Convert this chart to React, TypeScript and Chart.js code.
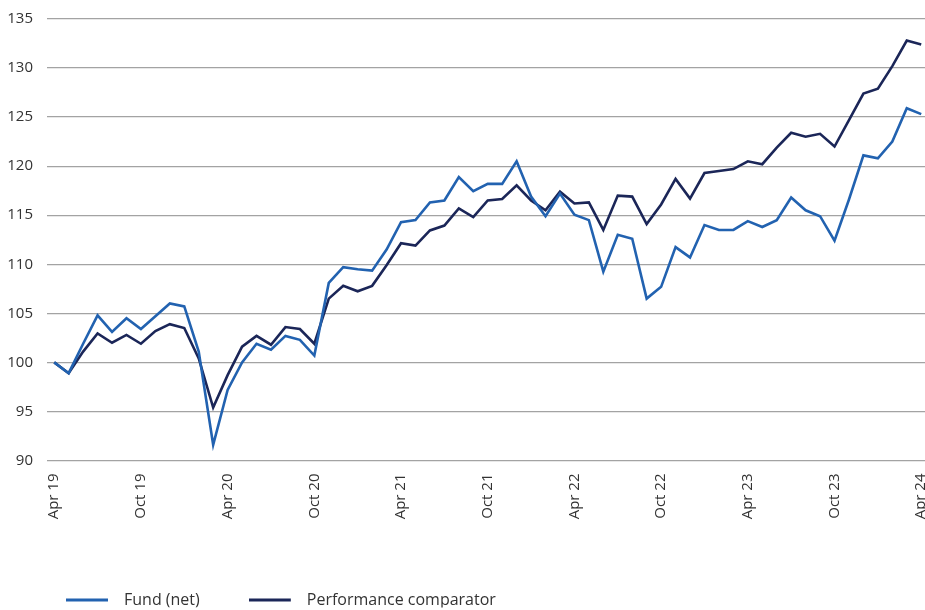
import { useEffect, useRef } from "react";
import { Chart, registerables } from "chart.js";

Chart.register(...registerables);

const months: string[] = [
  "Apr 19", "May 19", "Jun 19", "Jul 19", "Aug 19", "Sep 19", "Oct 19", "Nov 19", "Dec 19",
  "Jan 20", "Feb 20", "Mar 20", "Apr 20", "May 20", "Jun 20", "Jul 20", "Aug 20", "Sep 20", "Oct 20", "Nov 20", "Dec 20",
  "Jan 21", "Feb 21", "Mar 21", "Apr 21", "May 21", "Jun 21", "Jul 21", "Aug 21", "Sep 21", "Oct 21", "Nov 21", "Dec 21",
  "Jan 22", "Feb 22", "Mar 22", "Apr 22", "May 22", "Jun 22", "Jul 22", "Aug 22", "Sep 22", "Oct 22", "Nov 22", "Dec 22",
  "Jan 23", "Feb 23", "Mar 23", "Apr 23", "May 23", "Jun 23", "Jul 23", "Aug 23", "Sep 23", "Oct 23", "Nov 23", "Dec 23",
  "Jan 24", "Feb 24", "Mar 24", "Apr 24",
];

const fundNet: number[] = [
  100, 98.9, 101.9, 104.8, 103.1, 104.5, 103.4, 104.7, 106.0,
  105.7, 101.1, 91.6, 97.2, 100.0, 101.9, 101.3, 102.7, 102.3, 100.7, 108.1, 109.7,
  109.5, 109.35, 111.5, 114.3, 114.5, 116.3, 116.5, 118.9, 117.45, 118.2, 118.2, 120.5,
  116.9, 114.9, 117.2, 115.05, 114.5, 109.25, 113.0, 112.6, 106.5, 107.7, 111.75, 110.7,
  114.0, 113.5, 113.5, 114.4, 113.8, 114.5, 116.8, 115.5, 114.9, 112.4, 116.6, 121.1,
  120.8, 122.5, 125.9, 125.3,
];

const comparator: number[] = [
  100, 98.9, 101.1, 102.95, 102.0, 102.8, 101.9, 103.2, 103.9,
  103.5, 100.4, 95.4, 98.7, 101.6, 102.7, 101.8, 103.6, 103.4, 101.9, 106.5, 107.8,
  107.25, 107.8, 109.9, 112.15, 111.9, 113.45, 113.95, 115.7, 114.8, 116.5, 116.65, 118.05,
  116.5, 115.5, 117.4, 116.2, 116.3, 113.5, 117.0, 116.9, 114.1, 116.1, 118.7, 116.7,
  119.3, 119.5, 119.7, 120.5, 120.2, 121.9, 123.4, 123.0, 123.3, 122.0, 124.7, 127.4,
  127.9, 130.2, 132.8, 132.4,
];

const yTicks: number[] = [90, 95, 100, 105, 110, 115, 120, 125, 130, 135];

const FUND_COLOR = "#2262b0";
const COMP_COLOR = "#1b2658";
const FONT = "'Open Sans', sans-serif";

function legendLine(color: string): HTMLCanvasElement {
  const c = document.createElement("canvas");
  c.width = 50;
  c.height = 4;
  const ctx = c.getContext("2d");
  if (ctx) {
    ctx.fillStyle = color;
    ctx.fillRect(0, 0.5, 42, 3);
  }
  return c;
}

const LEGEND_PAD = 49;

const legendShift = {
  id: "legendShift",
  beforeDraw(chart: any) {
    const lg = chart.legend;
    if (lg) {
      lg.left = 66 - LEGEND_PAD;
      lg.top = 600 - LEGEND_PAD - 8;
    }
  },
};

export default function App() {
  const canvasRef = useRef<HTMLCanvasElement | null>(null);

  useEffect(() => {
    if (!canvasRef.current) return;
    const images = [legendLine(FUND_COLOR), legendLine(COMP_COLOR)];
    const chart = new Chart(canvasRef.current, {
      type: "line",
      data: {
        labels: months,
        datasets: [
          {
            label: "Fund (net)",
            data: fundNet,
            borderColor: FUND_COLOR,
            backgroundColor: FUND_COLOR,
            borderWidth: 2.6,
            pointRadius: 0,
            tension: 0,
          },
          {
            label: "Performance comparator",
            data: comparator,
            borderColor: COMP_COLOR,
            backgroundColor: COMP_COLOR,
            borderWidth: 2.6,
            pointRadius: 0,
            tension: 0,
          },
        ],
      },
      plugins: [legendShift],
      options: {
        animation: false,
        responsive: true,
        maintainAspectRatio: false,
        layout: { padding: { left: 0, right: 6.55, top: 19, bottom: 2.5 } },
        plugins: {
          tooltip: { enabled: false },
          legend: {
            position: "bottom",
            align: "start",
            labels: {
              usePointStyle: true,
              pointStyleWidth: 50,
              padding: LEGEND_PAD,
              color: "#333333",
              font: { family: FONT, size: 16 },
              generateLabels: (ch: any) => {
                const items = Chart.defaults.plugins.legend.labels.generateLabels(ch);
                return items.map((it: any, i: number) => ({ ...it, pointStyle: images[i] }));
              },
            },
          },
        },
        scales: {
          x: {
            type: "category",
            offset: true,
            grid: { display: false, drawTicks: false },
            border: { display: false },
            afterFit: (scale: any) => {
              scale.height = 72;
              scale.paddingLeft = 0;
              scale.paddingRight = 0;
            },
            ticks: {
              autoSkip: false,
              minRotation: 90,
              maxRotation: 90,
              padding: 13,
              color: "#333333",
              font: { family: FONT, size: 15 },
              callback: (_v: any, index: number) => (index % 6 === 0 ? months[index] : ""),
            },
          },
          y: {
            min: yTicks[0],
            max: yTicks[yTicks.length - 1],
            afterFit: (scale: any) => {
              scale.width = 47;
              scale.paddingTop = 0;
              scale.paddingBottom = 0;
            },
            afterBuildTicks: (scale: any) => {
              scale.ticks = yTicks.map((v) => ({ value: v }));
            },
            grid: { color: "#a3a3a3", lineWidth: 1.3, drawTicks: false },
            border: { display: false },
            ticks: {
              padding: 14,
              color: "#333333",
              font: { family: FONT, size: 15 },
            },
          },
        },
      },
    });
    return () => chart.destroy();
  }, []);

  return (
    <div style={{ position: "fixed", left: 0, top: 0, width: 925, height: 610, overflow: "hidden", background: "#fff" }}>
      <div style={{ position: "relative", width: 935, height: 610 }}>
        <canvas ref={canvasRef} />
      </div>
    </div>
  );
}
